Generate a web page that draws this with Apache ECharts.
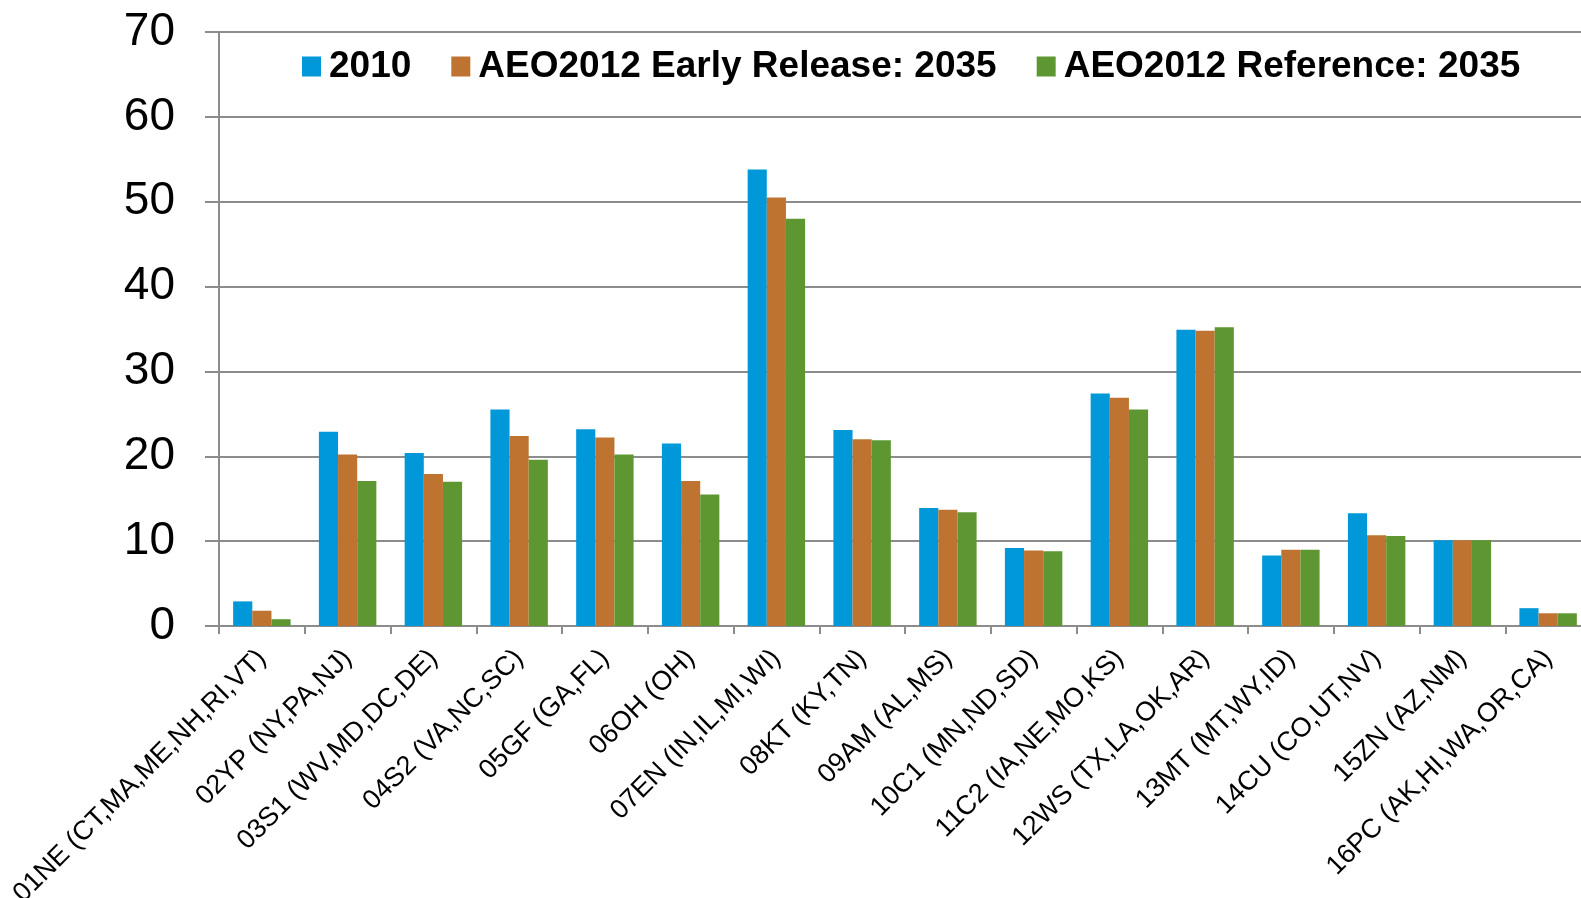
<!DOCTYPE html>
<html>
<head>
<meta charset="utf-8">
<script src="https://cdn.jsdelivr.net/npm/echarts@6/dist/echarts.min.js"></script>
<style>
  html, body { margin: 0; padding: 0; background: #fff; }
  #chart { width: 1581px; height: 898px; }
</style>
</head>
<body>
<div id="chart"></div>
<script>
// regions (x axis)
const regions = [
  '01NE (CT,MA,ME,NH,RI,VT)', '02YP (NY,PA,NJ)', '03S1 (WV,MD,DC,DE)', '04S2 (VA,NC,SC)',
  '05GF (GA,FL)', '06OH (OH)', '07EN (IN,IL,MI,WI)', '08KT (KY,TN)',
  '09AM (AL,MS)', '10C1 (MN,ND,SD)', '11C2 (IA,NE,MO,KS)', '12WS (TX,LA,OK,AR)',
  '13MT (MT,WY,ID)', '14CU (CO,UT,NV)', '15ZN (AZ,NM)', '16PC (AK,HI,WA,OR,CA)'
];
const seriesNames = ['2010', 'AEO2012 Early Release: 2035', 'AEO2012 Reference: 2035'];

// values
const values2010 = [2.9, 22.9, 20.4, 25.5, 23.2, 21.5, 53.8, 23.1, 13.9, 9.2, 27.4, 34.9, 8.3, 13.3, 10.1, 2.1];
const valuesEarly = [1.8, 20.2, 17.9, 22.4, 22.2, 17.1, 50.5, 22.0, 13.7, 8.9, 26.9, 34.8, 9.0, 10.7, 10.1, 1.5];
const valuesRef = [0.8, 17.1, 17.0, 19.6, 20.2, 15.5, 48.0, 21.9, 13.4, 8.8, 25.5, 35.2, 9.0, 10.6, 10.1, 1.5];

const yTicks = { min: 0, max: 70, interval: 10 };
const colors = ['#0098d8', '#be7430', '#5e9732'];

const chart = echarts.init(document.getElementById('chart'));

const makeBar = (name, data, i) => ({
  name: name,
  type: 'bar',
  data: data,
  barGap: '0%',
  barCategoryGap: '33%',
  itemStyle: { color: colors[i] }
});

chart.setOption({
  animation: false,
  backgroundColor: '#fff',
  color: colors,
  legend: {
    left: 297,
    top: 43,
    itemWidth: 19,
    itemHeight: 20,
    itemGap: 40,
    icon: 'rect',
    textStyle: {
      fontFamily: 'Liberation Sans',
      fontWeight: 'bold',
      fontSize: 37,
      color: '#000',
      padding: [0, 0, 0, 3]
    },
    data: seriesNames
  },
  grid: { left: 219, top: 32, bottom: 272, right: -10, containLabel: false, outerBoundsMode: 'none' },
  xAxis: {
    type: 'category',
    data: regions,
    axisLine: { lineStyle: { color: '#8c8c8c', width: 2 } },
    axisTick: { show: true, length: 8, lineStyle: { color: '#8c8c8c', width: 2 } },
    axisLabel: {
      rotate: 45,
      interval: 0,
      margin: 28,
      fontFamily: 'Liberation Sans',
      fontSize: 27,
      color: '#000'
    }
  },
  yAxis: {
    type: 'value',
    min: yTicks.min,
    max: yTicks.max,
    interval: yTicks.interval,
    axisLine: { show: true, lineStyle: { color: '#8c8c8c', width: 2 } },
    axisTick: { show: true, length: 14, lineStyle: { color: '#8c8c8c', width: 2 } },
    splitLine: { show: true, lineStyle: { color: '#8c8c8c', width: 2 } },
    axisLabel: {
      margin: 44,
      fontFamily: 'Liberation Sans',
      fontSize: 46,
      color: '#000'
    }
  },
  series: [
    makeBar(seriesNames[0], values2010, 0),
    makeBar(seriesNames[1], valuesEarly, 1),
    makeBar(seriesNames[2], valuesRef, 2)
  ]
});
</script>
</body>
</html>
